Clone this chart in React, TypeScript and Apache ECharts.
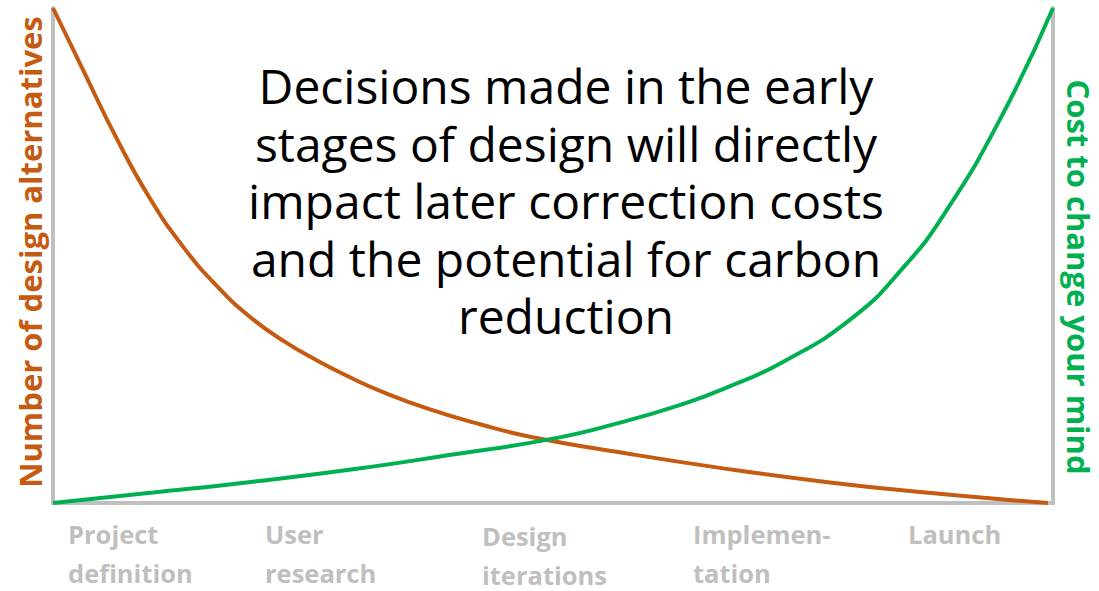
import React, { useEffect, useRef } from "react";
import * as echarts from "echarts";

// Design stage progress (0-100) and relative values
const orangeX = [0, 3, 6.4, 9.7, 13, 16.4, 19.7, 23, 26.4, 29.7, 33, 37.7, 42.7, 47.7, 57.7, 66.7, 76.7, 86.7, 99.5];
const orangeY = [100, 87.5, 73.5, 61.5, 51.8, 43.8, 37.6, 32.8, 28.8, 25.4, 22.4, 18.9, 15.9, 13.4, 9.9, 7.1, 4.4, 2.2, 0];
const greenX = [0, 10, 20, 30, 40, 50, 57, 63, 67, 73, 80, 85, 89, 94.7, 100];
const greenY = [0, 2.1, 4.3, 6.8, 9.8, 13.0, 16.4, 20.0, 23.0, 28.5, 37.5, 47.5, 58.0, 77.5, 100];

const stageLabels = ["Project\ndefinition", "User\nresearch", "Design\niterations", "Implemen-\ntation", "Launch"];
const stageLabelX = [68, 265, 482, 693, 908];
const stageLabelY = [534, 534, 536, 534, 534];

const titleText = "Decisions made in the early\nstages of design will directly\nimpact later correction costs\nand the potential for carbon\nreduction";
const leftAxisTitle = "Number of design alternatives";
const rightAxisTitle = "Cost to change your mind";

const ORANGE = "#c55a11";
const GREEN = "#00b050";
const GRAY = "#bfbfbf";

export default function App() {
  const ref = useRef<HTMLDivElement>(null);
  useEffect(() => {
    if (!ref.current) return;
    const chart = echarts.init(ref.current, null, { renderer: "svg" });
    const zip = (xs: number[], ys: number[]) => xs.map((x, i) => [x, ys[i]]);
    const hiddenAxis = {
      axisTick: { show: false },
      axisLabel: { show: false },
      splitLine: { show: false },
    };
    const labelTexts: any[] = [];
    stageLabels.forEach((t, i) => {
      t.split("\n").forEach((line, j) => {
        labelTexts.push({
          type: "text",
          x: stageLabelX[i],
          y: stageLabelY[i] + j * 39,
          style: {
            text: line,
            fill: GRAY,
            font: "700 25.5px 'Open Sans', sans-serif",
            align: "left",
            verticalAlign: "middle",
            lineHeight: 26,
          },
        });
      });
    });
    chart.setOption({
      animation: false,
      grid: { left: 53, right: 46, top: 8, bottom: 88 },
      xAxis: {
        type: "value",
        min: 0,
        max: 100,
        axisLine: { show: true, lineStyle: { color: GRAY, width: 4 } },
        ...hiddenAxis,
      },
      yAxis: [
        {
          type: "value",
          min: 0,
          max: 100,
          position: "left",
          axisLine: { show: true, lineStyle: { color: GRAY, width: 4 } },
          ...hiddenAxis,
        },
        {
          type: "value",
          min: 0,
          max: 100,
          position: "right",
          axisLine: { show: true, lineStyle: { color: GRAY, width: 4 } },
          ...hiddenAxis,
        },
      ],
      series: [
        {
          type: "line",
          data: zip(orangeX, orangeY),
          smooth: 0.5,
          showSymbol: false,
          lineStyle: { color: ORANGE, width: 4 },
          z: 3,
        },
        {
          type: "line",
          data: zip(greenX, greenY),
          smooth: 0.5,
          showSymbol: false,
          lineStyle: { color: GREEN, width: 4 },
          z: 4,
        },
      ],
      graphic: [
        {
          type: "text",
          x: 566,
          y: 57,
          style: {
            text: titleText,
            fill: "#000",
            font: "400 48px 'Open Sans', sans-serif",
            align: "center",
            verticalAlign: "top",
            lineHeight: 57.5,
          },
          z: 10,
        },
        {
          type: "text",
          x: 30,
          y: 252,
          rotation: Math.PI / 2,
          style: {
            text: leftAxisTitle,
            fill: ORANGE,
            font: "700 31px 'Open Sans', sans-serif",
            align: "center",
            verticalAlign: "middle",
          },
        },
        {
          type: "text",
          x: 1079,
          y: 277,
          rotation: -Math.PI / 2,
          style: {
            text: rightAxisTitle,
            fill: GREEN,
            font: "700 31px 'Open Sans', sans-serif",
            align: "center",
            verticalAlign: "middle",
          },
        },
        ...labelTexts,
      ],
    });
    return () => chart.dispose();
  }, []);
  return <div ref={ref} style={{ width: 1099, height: 591, position: "absolute", left: 0, top: 0 }} />;
}
